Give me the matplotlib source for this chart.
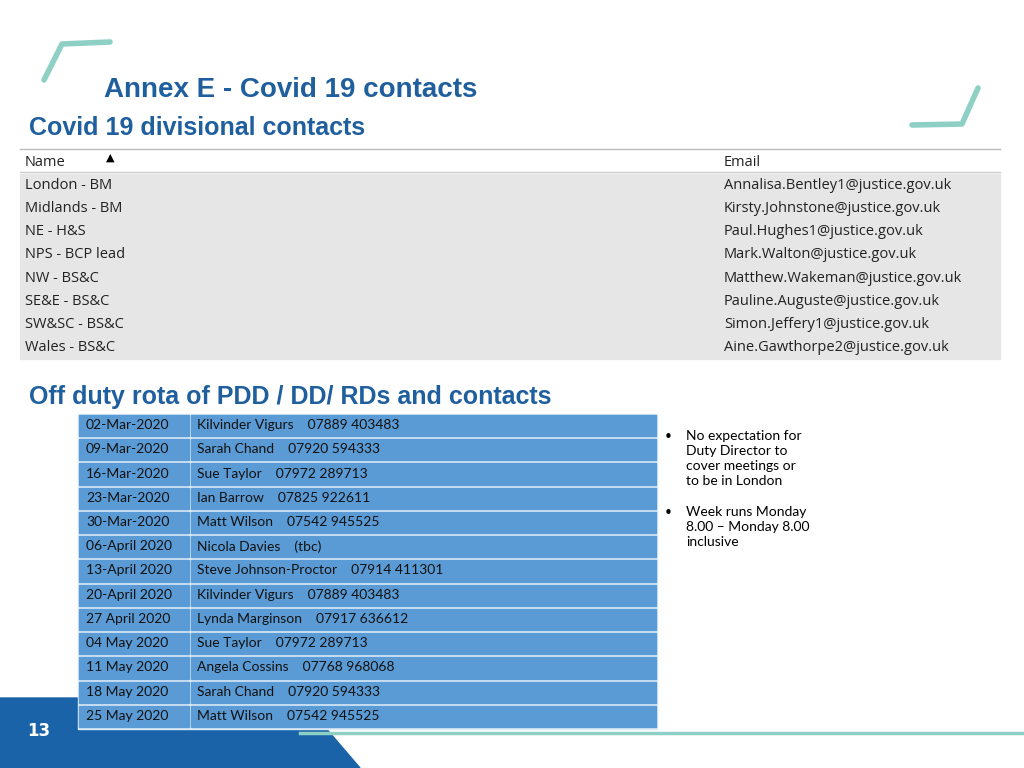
import matplotlib
matplotlib.use("Agg")
import matplotlib.pyplot as plt
from matplotlib.patches import Rectangle, Polygon

names = ["London - BM", "Midlands - BM", "NE - H&S", "NPS - BCP lead", "NW - BS&C",
         "SE&E - BS&C", "SW&SC - BS&C", "Wales - BS&C"]
emails = ["Annalisa.Bentley1@justice.gov.uk", "Kirsty.Johnstone@justice.gov.uk",
          "Paul.Hughes1@justice.gov.uk", "Mark.Walton@justice.gov.uk",
          "Matthew.Wakeman@justice.gov.uk", "Pauline.Auguste@justice.gov.uk",
          "Simon.Jeffery1@justice.gov.uk", "Aine.Gawthorpe2@justice.gov.uk"]
dates = ["02-Mar-2020", "09-Mar-2020", "16-Mar-2020", "23-Mar-2020", "30-Mar-2020",
         "06-April 2020", "13-April 2020", "20-April 2020", "27 April 2020", "04 May 2020",
         "11 May 2020", "18 May 2020", "25 May 2020"]
contacts = ["Kilvinder Vigurs    07889 403483", "Sarah Chand    07920 594333",
            "Sue Taylor    07972 289713", "Ian Barrow    07825 922611",
            "Matt Wilson    07542 945525", "Nicola Davies    (tbc)",
            "Steve Johnson-Proctor    07914 411301", "Kilvinder Vigurs    07889 403483",
            "Lynda Marginson    07917 636612", "Sue Taylor    07972 289713",
            "Angela Cossins    07768 968068", "Sarah Chand    07920 594333",
            "Matt Wilson    07542 945525"]

fig = plt.figure(figsize=(10.24, 7.68), dpi=100)
ax = fig.add_axes([0, 0, 1, 1])
ax.set_xlim(0, 1024); ax.set_ylim(768, 0); ax.axis("off")

teal = "#8FD0C4"
ax.plot([110, 62, 44], [42, 44, 80], color=teal, lw=4, solid_capstyle="round", solid_joinstyle="round")
ax.plot([912, 962, 978], [125, 124, 88], color=teal, lw=4, solid_capstyle="round", solid_joinstyle="round")

blue = "#1F5F9E"
ax.text(104, 90, "Annex E - Covid 19 contacts", color=blue, fontsize=20, fontweight="bold",
        va="center", family="Liberation Sans")
ax.text(29, 128, "Covid 19 divisional contacts", color=blue, fontsize=18, fontweight="bold",
        va="center", family="Liberation Sans")
ax.text(29, 397, "Off duty rota of PDD / DD/ RDs and contacts", color=blue, fontsize=18,
        fontweight="bold", va="center", family="Liberation Sans")

# grey table
ax.plot([20, 1000], [149, 149], color="#BBBBBB", lw=1)
ax.plot([20, 1000], [172, 172], color="#CCCCCC", lw=1)
ax.text(25, 162, "Name", fontsize=10.5, va="center", color="#222", family="Open Sans")
ax.text(110, 158, "▲", fontsize=8, va="center", ha="center", color="black")
ax.text(724, 162, "Email", fontsize=10.5, va="center", color="#222", family="Open Sans")
ax.add_patch(Rectangle((20, 174), 980, 185, color="#E6E6E6"))
rh = 185 / len(names)
for i, (n, e) in enumerate(zip(names, emails)):
    y = 174 + rh * (i + 0.5)
    ax.text(25, y, n, fontsize=10.5, va="center", color="#222", family="Open Sans")
    ax.text(724, y, e, fontsize=10.5, va="center", color="#222", family="Open Sans")

# bottom decoration
ax.add_patch(Polygon([(0, 698), (300, 698), (360, 768), (0, 768)], color="#1B63A8"))
ax.plot([300, 1024], [733, 733], color=teal, lw=2.5)
ax.text(39, 731, "13", color="white", fontsize=12, fontweight="bold", ha="center", va="center")

# rota table
x0, x1, xm = 78, 657, 190
top, bot = 414, 729
n = len(dates)
h = (bot - top) / n
ax.add_patch(Rectangle((x0, top), x1 - x0, bot - top, color="#DDEBF7"))
for i, (d, c) in enumerate(zip(dates, contacts)):
    y = top + h * i
    ax.add_patch(Rectangle((x0 + 1, y + 1), xm - x0 - 2, h - 3, color="#5B9BD5"))
    ax.add_patch(Rectangle((xm + 1, y + 1), x1 - xm - 2, h - 3, color="#5B9BD5"))
    ax.text(86, y + h / 2 - 1, d, fontsize=10, va="center", color="#111", family="Lato")
    ax.text(197, y + h / 2 - 1, c, fontsize=10, va="center", color="#111", family="Lato")

bul = ["No expectation for\nDuty Director to\ncover meetings or\nto be in London",
       "Week runs Monday\n8.00 – Monday 8.00\ninclusive"]
ax.text(664, 438, "•", fontsize=11, va="center")
ax.text(686, 430, bul[0], fontsize=10, va="top", linespacing=1.3, family="Lato")
ax.text(664, 514, "•", fontsize=11, va="center")
ax.text(686, 506, bul[1], fontsize=10, va="top", linespacing=1.3, family="Lato")

fig.savefig("out.png", dpi=100)
